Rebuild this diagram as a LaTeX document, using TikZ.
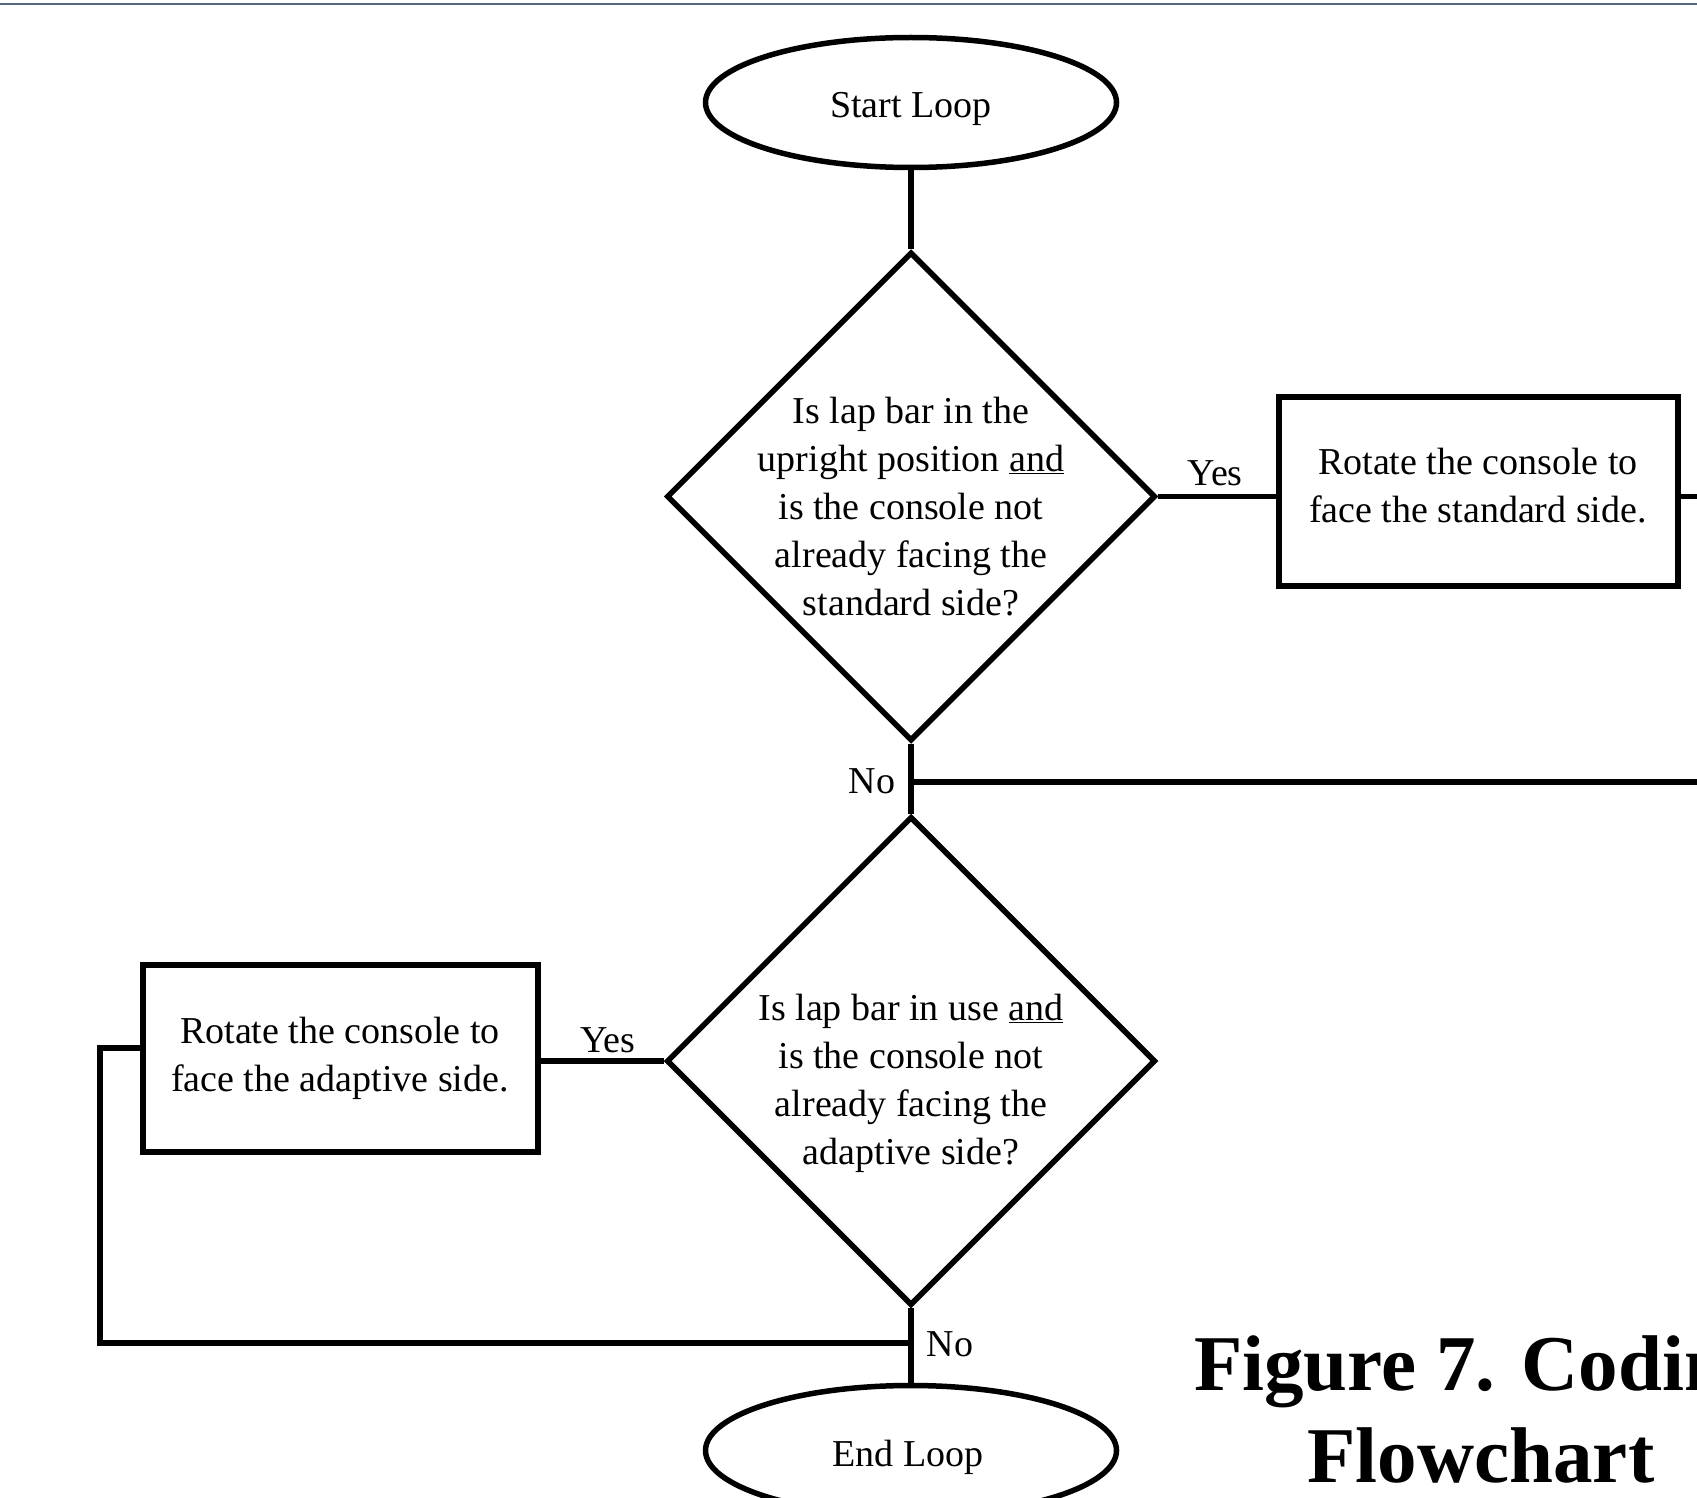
\documentclass[tikz,border=0pt]{standalone}
\usepackage{fontspec}
\setmainfont{Liberation Serif}
\usetikzlibrary{shapes.geometric,calc}
\definecolor{topline}{RGB}{88,102,128}
\newcommand{\mainsize}{\fontsize{38}{48}\selectfont}
\newcommand{\capsize}{\fontsize{79}{92}\selectfont\bfseries}
\begin{document}
\begin{tikzpicture}[x=1pt,y=-1pt,
  every node/.style={font=\mainsize},
  terminal/.style={draw, ellipse, line width=5.5pt, minimum width=411pt, minimum height=130pt, inner sep=0pt},
  decision/.style={draw, diamond, line width=5.5pt, minimum width=489pt, minimum height=489pt, inner sep=0pt},
  process/.style={draw, rectangle, line width=6pt, inner sep=0pt, align=center},
  qtext/.style={align=center, inner sep=0pt},
  lbl/.style={inner sep=0pt},
  conn/.style={line width=5.5pt},
]
\useasboundingbox (0,0) rectangle (1697,1498);
\clip (0,0) rectangle (1697,1498);
\fill[white] (0,0) rectangle (1697,1498);
\draw[topline, line width=2.5pt] (0,4) -- (1697,4);

% nodes
\node[terminal] (s) at (911,102.5) {};
\node (st) at (911,108.5) {Start Loop};
\node[decision] (d1) at (911,496.5) {};
\node[qtext] (d1t) at (911,506.5) {Is lap bar in the\\upright position \underline{and}\\is the console not\\already facing the\\standard side?};
\node[process, minimum width=399pt, minimum height=189pt] (b1) at (1478.5,491.5) {};
\node[qtext] (b1t) at (1478,486) {Rotate the console to\\face the standard side.};
\node[decision] (d2) at (911,1061) {};
\node[qtext] (d2t) at (911,1083) {Is lap bar in use \underline{and}\\is the console not\\already facing the\\adaptive side?};
\node[process, minimum width=395pt, minimum height=187pt] (b2) at (340.5,1058.5) {};
\node[qtext] (b2t) at (340,1058) {Rotate the console to\\face the adaptive side.};
\node[terminal] (e) at (911,1450.5) {};
\node (et) at (908,1457) {End Loop};

% labels
\node[lbl] (y1) at (1215,473) {Yes};
\node[lbl] (y2) at (608,1040) {Yes};
\node[lbl] (n1) at (872,781) {No};
\node[lbl] (n2) at (950,1344) {No};

% caption
\node[align=center, inner sep=0pt, font=\capsize] (cap) at (1481,1409) {Figure 7. Coding\\Flowchart};

% coordinates
\coordinate (r1) at (1710,496.5);
\coordinate (j1) at (911,782);
\coordinate (r2) at (1710,782);
\coordinate (c1) at (100,1048);
\coordinate (c2) at (100,1343);
\coordinate (j2) at (911,1343);

% connectors
\draw[conn] (s.south) -- (d1.north);
\draw[conn] (d1.east) -- (d1.east -| b1.west);
\draw[conn] (b1.east |- r1) -- (r1);
\draw[conn] (d1.south) -- (d2.north);
\draw[conn] (j1) -- (r2);
\draw[conn] (d2.west) -- (d2.west -| b2.east);
\draw[conn] (b2.west |- c1) -- (c1) -- (c2) -- (j2);
\draw[conn] (d2.south) -- (e.north);
\end{tikzpicture}
\end{document}
